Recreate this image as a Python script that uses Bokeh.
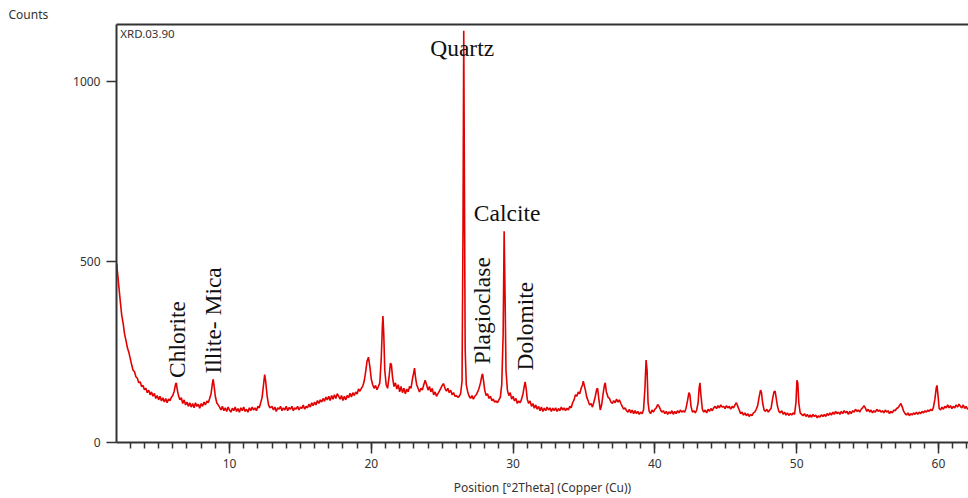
import math
from bokeh.plotting import figure
from bokeh.models import Range1d, LinearAxis, FixedTicker, Label
from bokeh.embed import file_html
from bokeh.resources import INLINE

# ---- data: (2theta, counts) ----
scan = [
    (2.05, 495), (2.1, 470), (2.2, 430), (2.3, 390), (2.4, 352), (2.5, 330), (2.6, 300), (2.7, 282),
    (2.8, 262), (2.9, 250), (3.0, 232), (3.1, 215), (3.2, 200), (3.3, 196), (3.4, 182), (3.5, 178),
    (3.6, 165), (3.7, 168), (3.8, 155), (3.9, 158), (4.0, 146), (4.1, 150), (4.2, 138), (4.3, 145),
    (4.4, 132), (4.5, 140), (4.6, 128), (4.7, 136), (4.8, 122), (4.9, 130), (5.0, 118), (5.1, 128),
    (5.2, 115), (5.3, 124), (5.4, 112), (5.5, 122), (5.6, 110), (5.7, 120), (5.8, 116), (5.9, 125),
    (6.0, 130), (6.1, 142), (6.2, 162), (6.25, 165), (6.3, 150), (6.4, 130), (6.5, 118), (6.6, 124),
    (6.7, 108), (6.8, 118), (6.9, 104), (7.0, 112), (7.1, 100), (7.2, 110), (7.3, 98), (7.4, 108),
    (7.5, 96), (7.6, 110), (7.7, 100), (7.8, 106), (7.9, 95), (8.0, 108), (8.1, 100), (8.2, 112),
    (8.3, 104), (8.4, 115), (8.5, 110), (8.6, 122), (8.7, 135), (8.8, 165), (8.85, 175), (8.9, 160),
    (9.0, 128), (9.1, 110), (9.2, 104), (9.3, 98), (9.4, 90), (9.5, 100), (9.6, 88), (9.7, 96),
    (9.8, 86), (9.9, 98), (10.0, 90), (10.1, 84), (10.2, 95), (10.3, 88), (10.4, 98), (10.5, 86),
    (10.6, 94), (10.7, 84), (10.8, 96), (10.9, 88), (11.0, 98), (11.1, 86), (11.2, 92), (11.3, 84),
    (11.4, 96), (11.5, 88), (11.6, 98), (11.7, 90), (11.8, 96), (11.9, 88), (12.0, 100), (12.1, 96),
    (12.2, 110), (12.3, 125), (12.4, 160), (12.48, 188), (12.55, 170), (12.65, 130), (12.75, 105),
    (12.85, 96), (13.0, 100), (13.1, 90), (13.2, 98), (13.3, 86), (13.4, 96), (13.5, 92), (13.6, 100),
    (13.7, 88), (13.8, 96), (13.9, 90), (14.0, 100), (14.1, 88), (14.2, 97), (14.3, 92), (14.4, 100),
    (14.5, 88), (14.6, 96), (14.7, 92), (14.8, 100), (14.9, 90), (15.0, 98), (15.1, 94), (15.2, 104),
    (15.3, 92), (15.4, 100), (15.5, 96), (15.6, 106), (15.7, 98), (15.8, 110), (15.9, 102), (16.0, 112),
    (16.1, 104), (16.2, 116), (16.3, 108), (16.4, 118), (16.5, 112), (16.6, 122), (16.7, 114),
    (16.8, 126), (16.9, 118), (17.0, 128), (17.1, 116), (17.2, 130), (17.3, 120), (17.4, 132),
    (17.5, 122), (17.6, 135), (17.7, 128), (17.8, 120), (17.9, 130), (18.0, 116), (18.1, 128),
    (18.2, 118), (18.3, 130), (18.4, 124), (18.5, 136), (18.6, 126), (18.7, 138), (18.8, 130),
    (18.9, 140), (19.0, 134), (19.1, 148), (19.2, 142), (19.3, 150), (19.4, 156), (19.5, 170),
    (19.6, 195), (19.7, 225), (19.8, 236), (19.9, 210), (20.0, 175), (20.1, 160), (20.2, 150),
    (20.3, 158), (20.4, 146), (20.5, 155), (20.6, 165), (20.7, 230), (20.78, 320), (20.82, 350),
    (20.88, 300), (20.95, 200), (21.05, 160), (21.15, 150), (21.25, 180), (21.35, 220), (21.42, 215),
    (21.5, 180), (21.6, 155), (21.7, 165), (21.8, 148), (21.9, 160), (22.0, 140), (22.1, 155),
    (22.2, 138), (22.3, 150), (22.4, 135), (22.5, 148), (22.6, 140), (22.7, 155), (22.8, 150),
    (22.9, 175), (23.0, 195), (23.05, 206), (23.12, 180), (23.2, 160), (23.3, 150), (23.4, 140),
    (23.5, 150), (23.6, 145), (23.7, 160), (23.8, 172), (23.9, 160), (24.0, 145), (24.1, 155),
    (24.2, 140), (24.3, 150), (24.4, 132), (24.5, 140), (24.6, 128), (24.7, 135), (24.8, 142),
    (24.9, 150), (25.0, 158), (25.1, 163), (25.2, 150), (25.3, 142), (25.4, 150), (25.5, 138),
    (25.6, 145), (25.7, 132), (25.8, 138), (25.9, 128), (26.0, 130), (26.1, 125), (26.2, 128),
    (26.3, 135), (26.4, 170), (26.47, 600), (26.52, 1140), (26.57, 700), (26.62, 260), (26.7, 160),
    (26.8, 140), (26.9, 128), (27.0, 122), (27.1, 130), (27.2, 120), (27.3, 128), (27.4, 132),
    (27.5, 140), (27.6, 150), (27.7, 165), (27.8, 185), (27.85, 190), (27.92, 170), (28.0, 145),
    (28.1, 130), (28.2, 135), (28.3, 122), (28.4, 128), (28.5, 116), (28.6, 120), (28.7, 112),
    (28.8, 115), (28.9, 110), (29.0, 118), (29.1, 125), (29.2, 160), (29.3, 300), (29.37, 585),
    (29.43, 420), (29.5, 200), (29.6, 145), (29.7, 130), (29.8, 138), (29.9, 120), (30.0, 128),
    (30.1, 115), (30.2, 122), (30.3, 108), (30.4, 115), (30.5, 110), (30.6, 120), (30.7, 135),
    (30.8, 158), (30.85, 168), (30.92, 150), (31.0, 120), (31.1, 108), (31.2, 115), (31.3, 100),
    (31.4, 108), (31.5, 95), (31.6, 104), (31.7, 92), (31.8, 100), (31.9, 88), (32.0, 98), (32.1, 86),
    (32.2, 95), (32.3, 88), (32.4, 98), (32.5, 90), (32.6, 96), (32.7, 86), (32.8, 95), (32.9, 88),
    (33.0, 96), (33.1, 86), (33.2, 94), (33.3, 88), (33.4, 98), (33.5, 90), (33.6, 96), (33.7, 88),
    (33.8, 95), (33.9, 90), (34.0, 100), (34.1, 96), (34.2, 110), (34.3, 118), (34.4, 132),
    (34.5, 128), (34.6, 140), (34.7, 135), (34.8, 150), (34.9, 160), (34.95, 170), (35.0, 162),
    (35.1, 145), (35.2, 125), (35.3, 115), (35.4, 104), (35.5, 108), (35.6, 98), (35.7, 112),
    (35.8, 128), (35.9, 148), (35.96, 150), (36.05, 120), (36.15, 90), (36.25, 105), (36.35, 135),
    (36.45, 160), (36.5, 165), (36.58, 140), (36.7, 125), (36.8, 122), (36.9, 112), (37.0, 108),
    (37.1, 116), (37.2, 110), (37.3, 120), (37.4, 112), (37.5, 118), (37.6, 108), (37.7, 100),
    (37.8, 92), (37.9, 96), (38.0, 88), (38.1, 84), (38.2, 92), (38.3, 82), (38.4, 90), (38.5, 80),
    (38.6, 88), (38.7, 80), (38.8, 86), (38.9, 78), (39.0, 84), (39.1, 80), (39.2, 90), (39.3, 150),
    (39.38, 228), (39.45, 200), (39.52, 110), (39.6, 86), (39.7, 80), (39.8, 90), (39.9, 84),
    (40.0, 92), (40.1, 96), (40.2, 105), (40.3, 100), (40.4, 90), (40.5, 84), (40.6, 88), (40.7, 80),
    (40.8, 86), (40.9, 78), (41.0, 85), (41.1, 80), (41.2, 88), (41.3, 78), (41.4, 86), (41.5, 80),
    (41.6, 88), (41.7, 82), (41.8, 90), (41.9, 84), (42.0, 88), (42.1, 84), (42.2, 95), (42.3, 115),
    (42.4, 138), (42.47, 132), (42.55, 100), (42.65, 84), (42.75, 88), (42.85, 82), (42.95, 90),
    (43.05, 110), (43.12, 150), (43.18, 165), (43.25, 130), (43.35, 92), (43.45, 84), (43.55, 90),
    (43.65, 82), (43.75, 92), (43.85, 86), (43.95, 94), (44.05, 88), (44.15, 96), (44.25, 100),
    (44.35, 94), (44.45, 102), (44.55, 96), (44.65, 104), (44.75, 98), (44.85, 100), (44.95, 94),
    (45.05, 102), (45.15, 96), (45.25, 100), (45.35, 92), (45.45, 100), (45.55, 96), (45.65, 104),
    (45.75, 110), (45.85, 100), (45.95, 90), (46.05, 80), (46.15, 84), (46.25, 76), (46.35, 82),
    (46.45, 74), (46.55, 80), (46.65, 72), (46.75, 78), (46.85, 74), (46.95, 82), (47.05, 84),
    (47.15, 92), (47.25, 102), (47.35, 125), (47.45, 145), (47.52, 138), (47.6, 110), (47.7, 90),
    (47.8, 86), (47.9, 92), (48.0, 84), (48.1, 90), (48.2, 95), (48.3, 120), (48.4, 140), (48.48, 142),
    (48.55, 125), (48.65, 100), (48.75, 86), (48.85, 82), (48.95, 88), (49.05, 78), (49.15, 84),
    (49.25, 76), (49.35, 82), (49.45, 75), (49.55, 80), (49.65, 76), (49.75, 82), (49.85, 78),
    (49.95, 110), (50.02, 172), (50.08, 165), (50.15, 110), (50.25, 82), (50.35, 78), (50.45, 74),
    (50.55, 80), (50.65, 72), (50.75, 78), (50.85, 70), (50.95, 76), (51.05, 70), (51.15, 78),
    (51.25, 72), (51.35, 76), (51.45, 68), (51.55, 74), (51.65, 70), (51.75, 77), (51.85, 72),
    (51.95, 78), (52.05, 72), (52.15, 80), (52.25, 75), (52.35, 82), (52.45, 76), (52.55, 84),
    (52.65, 78), (52.75, 86), (52.85, 80), (52.95, 84), (53.05, 78), (53.15, 86), (53.25, 80),
    (53.35, 88), (53.45, 82), (53.55, 86), (53.65, 78), (53.75, 86), (53.85, 80), (53.95, 88),
    (54.05, 84), (54.15, 92), (54.25, 86), (54.35, 90), (54.45, 84), (54.55, 92), (54.65, 96),
    (54.75, 102), (54.85, 95), (54.95, 86), (55.05, 92), (55.15, 84), (55.25, 90), (55.35, 82),
    (55.45, 88), (55.55, 84), (55.65, 92), (55.75, 86), (55.85, 90), (55.95, 84), (56.05, 88),
    (56.15, 82), (56.25, 90), (56.35, 84), (56.45, 88), (56.55, 80), (56.65, 86), (56.75, 82),
    (56.85, 90), (56.95, 88), (57.05, 94), (57.15, 96), (57.25, 102), (57.35, 108), (57.45, 98),
    (57.55, 86), (57.65, 80), (57.75, 76), (57.85, 82), (57.95, 74), (58.05, 80), (58.15, 76),
    (58.25, 82), (58.35, 78), (58.45, 84), (58.55, 78), (58.65, 84), (58.75, 80), (58.85, 86),
    (58.95, 82), (59.05, 88), (59.15, 84), (59.25, 90), (59.35, 86), (59.45, 92), (59.55, 88),
    (59.65, 98), (59.75, 120), (59.85, 152), (59.9, 158), (59.97, 130), (60.05, 94), (60.15, 90),
    (60.25, 98), (60.35, 92), (60.45, 100), (60.55, 96), (60.65, 104), (60.75, 96), (60.85, 102),
    (60.95, 94), (61.05, 100), (61.15, 96), (61.25, 104), (61.35, 98), (61.45, 106), (61.55, 100),
    (61.65, 96), (61.75, 104), (61.85, 94), (61.95, 100), (62.05, 92), (62.15, 96),
]
two_theta = [p[0] for p in scan]
counts = [p[1] for p in scan]

# mineral annotations: name, 2theta, counts (centre of label), rotated?
minerals = ["Quartz", "Calcite", "Chlorite", "Illite- Mica", "Plagioclase", "Dolomite"]
mineral_x = [26.41, 29.58, 6.27, 8.87, 27.82, 30.85]
mineral_y = [1093, 634, 285, 338, 365, 322]
mineral_vertical = [False, False, True, True, True, True]

x_ticks = [10, 20, 30, 40, 50, 60]
y_ticks = [0, 500, 1000]
sample_name = "XRD.03.90"
y_title = "Counts"
x_title = "Position [°2Theta] (Copper (Cu))"

SANS = "Noto Sans"
SERIF = "Liberation Serif"
AXIS_COL = "#333333"

p = figure(width=968, height=498, output_backend="svg", toolbar_location=None,
           x_range=Range1d(2.03, 62.12), y_range=Range1d(0, 1157),
           min_border_left=116, min_border_right=0, min_border_top=24, min_border_bottom=56,
           background_fill_color="white", border_fill_color="white")
p.outline_line_color = None
p.grid.visible = False

# y-axis caption at the top-left corner
p.title.text = y_title
p.title.align = "left"
p.title.offset = -108
p.title.text_font = SANS
p.title.text_font_size = "12px"
p.title.text_font_style = "normal"
p.title.text_color = AXIS_COL
p.title.standoff = 4

p.line(two_theta, counts, line_color="#e20000", line_width=1.6)

# x axis
xa = p.xaxis[0]
xa.ticker = FixedTicker(ticks=x_ticks, minor_ticks=list(range(3, 63)))
xa.axis_line_color = AXIS_COL
xa.axis_line_width = 2
xa.major_tick_line_color = AXIS_COL
xa.major_tick_line_width = 1.5
xa.major_tick_out = 11
xa.major_tick_in = 0
xa.minor_tick_line_color = AXIS_COL
xa.minor_tick_line_width = 1.5
xa.minor_tick_out = 6
xa.minor_tick_in = 0
xa.major_label_text_font = SANS
xa.major_label_text_font_size = "12px"
xa.major_label_text_color = AXIS_COL
xa.major_label_standoff = 5
xa.axis_label = x_title
xa.axis_label_text_font = SANS
xa.axis_label_text_font_size = "12px"
xa.axis_label_text_font_style = "normal"
xa.axis_label_text_color = AXIS_COL
xa.axis_label_standoff = 8

# y axis
ya = p.yaxis[0]
ya.ticker = FixedTicker(ticks=y_ticks)
ya.axis_line_color = AXIS_COL
ya.axis_line_width = 2
ya.major_tick_line_color = AXIS_COL
ya.major_tick_line_width = 1.5
ya.major_tick_out = 10
ya.major_tick_in = 0
ya.minor_tick_line_color = None
ya.major_label_text_font = SANS
ya.major_label_text_font_size = "12px"
ya.major_label_text_color = AXIS_COL
ya.major_label_standoff = 6

# top frame line
top = LinearAxis(ticker=FixedTicker(ticks=[]), axis_line_color=AXIS_COL, axis_line_width=2,
                 major_tick_line_color=None, minor_tick_line_color=None,
                 major_label_text_font_size="0px")
p.add_layout(top, "above")

# mineral labels
for name, mx, my, vert in zip(minerals, mineral_x, mineral_y, mineral_vertical):
    p.add_layout(Label(x=mx, y=my, text=name, angle=(math.pi / 2 if vert else 0),
                       text_font=SERIF, text_font_size="23.5px", text_color="#111111",
                       text_align="center", text_baseline="middle"))

p.add_layout(Label(x=2.3, y=1132, text=sample_name, text_font=SANS, text_font_size="11.5px",
                   text_color=AXIS_COL, text_align="left", text_baseline="middle"))

open("out.html", "w").write(file_html(p, INLINE))
